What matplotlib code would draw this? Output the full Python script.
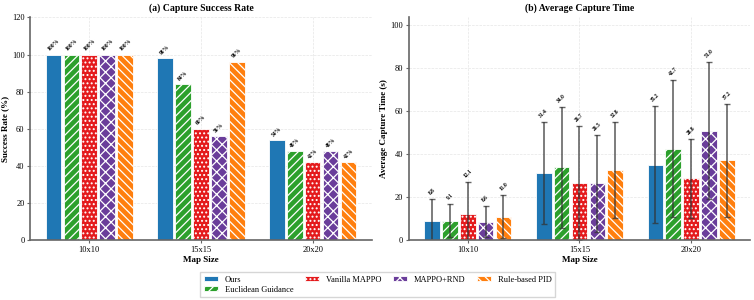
import numpy as np
import matplotlib
matplotlib.use('Agg')
import matplotlib.pyplot as plt

plt.rcParams['font.family'] = ['Liberation Serif', 'DejaVu Serif']
plt.rcParams['hatch.color'] = 'white'
plt.rcParams['hatch.linewidth'] = 0.9

map_sizes = ['10x10', '15x15', '20x20']
methods = ['Ours', 'Euclidean Guidance', 'Vanilla MAPPO', 'MAPPO+RND', 'Rule-based PID']
colors = ['#1f77b4', '#2ca02c', '#e41a1c', '#6a3d9a', '#ff7f0e']
hatches = ['', '////', '....', 'xxx', '\\\\\\\\']

# success rate (%)
success = [
    [100, 98, 54],
    [100, 84, 48],
    [100, 60, 42],
    [100, 56, 48],
    [100, 96, 42],
]

# capture time mean / std (s)
time_mean = [
    [8.8, 31.4, 35.2],
    [9.1, 34.0, 42.7],
    [12.1, 26.7, 28.8],
    [8.6, 26.5, 51.0],
    [11.0, 32.8, 37.2],
]
time_std = [
    [10.4, 23.6, 27.2],
    [7.7, 28.2, 31.8],
    [15.1, 26.5, 18.2],
    [7.2, 22.5, 32.0],
    [10.0, 22.4, 26.3],
]

x = np.arange(len(map_sizes))
pitch = 0.16
width = 0.14

fig = plt.figure(figsize=(7.54, 3.0), dpi=100)
ax1 = fig.add_axes([0.040, 0.199, 0.453, 0.743])
ax2 = fig.add_axes([0.542, 0.199, 0.453, 0.743])

for ax in (ax1, ax2):
    ax.set_axisbelow(True)
    ax.grid(True, linestyle='--', linewidth=0.5, color='#e6e6e6')
    for s in ('top', 'right'):
        ax.spines[s].set_visible(False)
    for s in ('left', 'bottom'):
        ax.spines[s].set_color('#666666')
        ax.spines[s].set_linewidth(1.2)
    ax.tick_params(labelsize=6, color='#666666', length=2.5, width=0.8, pad=1.5)
    ax.set_xticks(x)
    ax.set_xticklabels(map_sizes)
    ax.set_xlabel('Map Size', fontsize=6.5, fontweight='bold', labelpad=1.5)

handles = []
for i, m in enumerate(methods):
    pos = x + (i - 2) * pitch
    b = ax1.bar(pos, success[i], width, color=colors[i], hatch=hatches[i],
                edgecolor='white', linewidth=0.6, label=m)
    handles.append(b)
    for p, v in zip(pos, success[i]):
        ax1.text(p, v + 1.5, f'{v}%', rotation=45, ha='center', va='bottom',
                 fontsize=4, fontweight='bold')

    ax2.bar(pos, time_mean[i], width, color=colors[i], hatch=hatches[i],
            edgecolor='white', linewidth=0.6)
    ax2.errorbar(pos, time_mean[i], yerr=time_std[i], fmt='none',
                 ecolor='#333333', elinewidth=1.2, capsize=2, capthick=1, alpha=0.75)
    for p, v, s in zip(pos, time_mean[i], time_std[i]):
        ax2.text(p, v + s + 1.5, f'{v:.1f}', rotation=45, ha='center', va='bottom',
                 fontsize=4, fontweight='bold')

ax1.set_ylim(0, 120)
ax1.set_ylabel('Success Rate (%)', fontsize=6.5, fontweight='bold', labelpad=2)
ax1.set_title('(a) Capture Success Rate', fontsize=7, fontweight='bold', pad=5)

top = max(m + s for mm, ss in zip(time_mean, time_std) for m, s in zip(mm, ss))
ax2.set_ylim(0, top * 1.25)
ax2.set_ylabel('Average Capture Time (s)', fontsize=6.5, fontweight='bold', labelpad=2)
ax2.set_title('(b) Average Capture Time', fontsize=7, fontweight='bold', pad=5)

fig.legend(handles, methods, loc='lower center', bbox_to_anchor=(0.501, -0.005),
           ncol=4, fontsize=6, frameon=True, edgecolor='#cccccc', fancybox=False,
           columnspacing=1.4, handlelength=1.7, handleheight=0.5, handletextpad=0.8,
           borderpad=0.45, labelspacing=0.25)

fig.savefig('out.png', dpi=100)
